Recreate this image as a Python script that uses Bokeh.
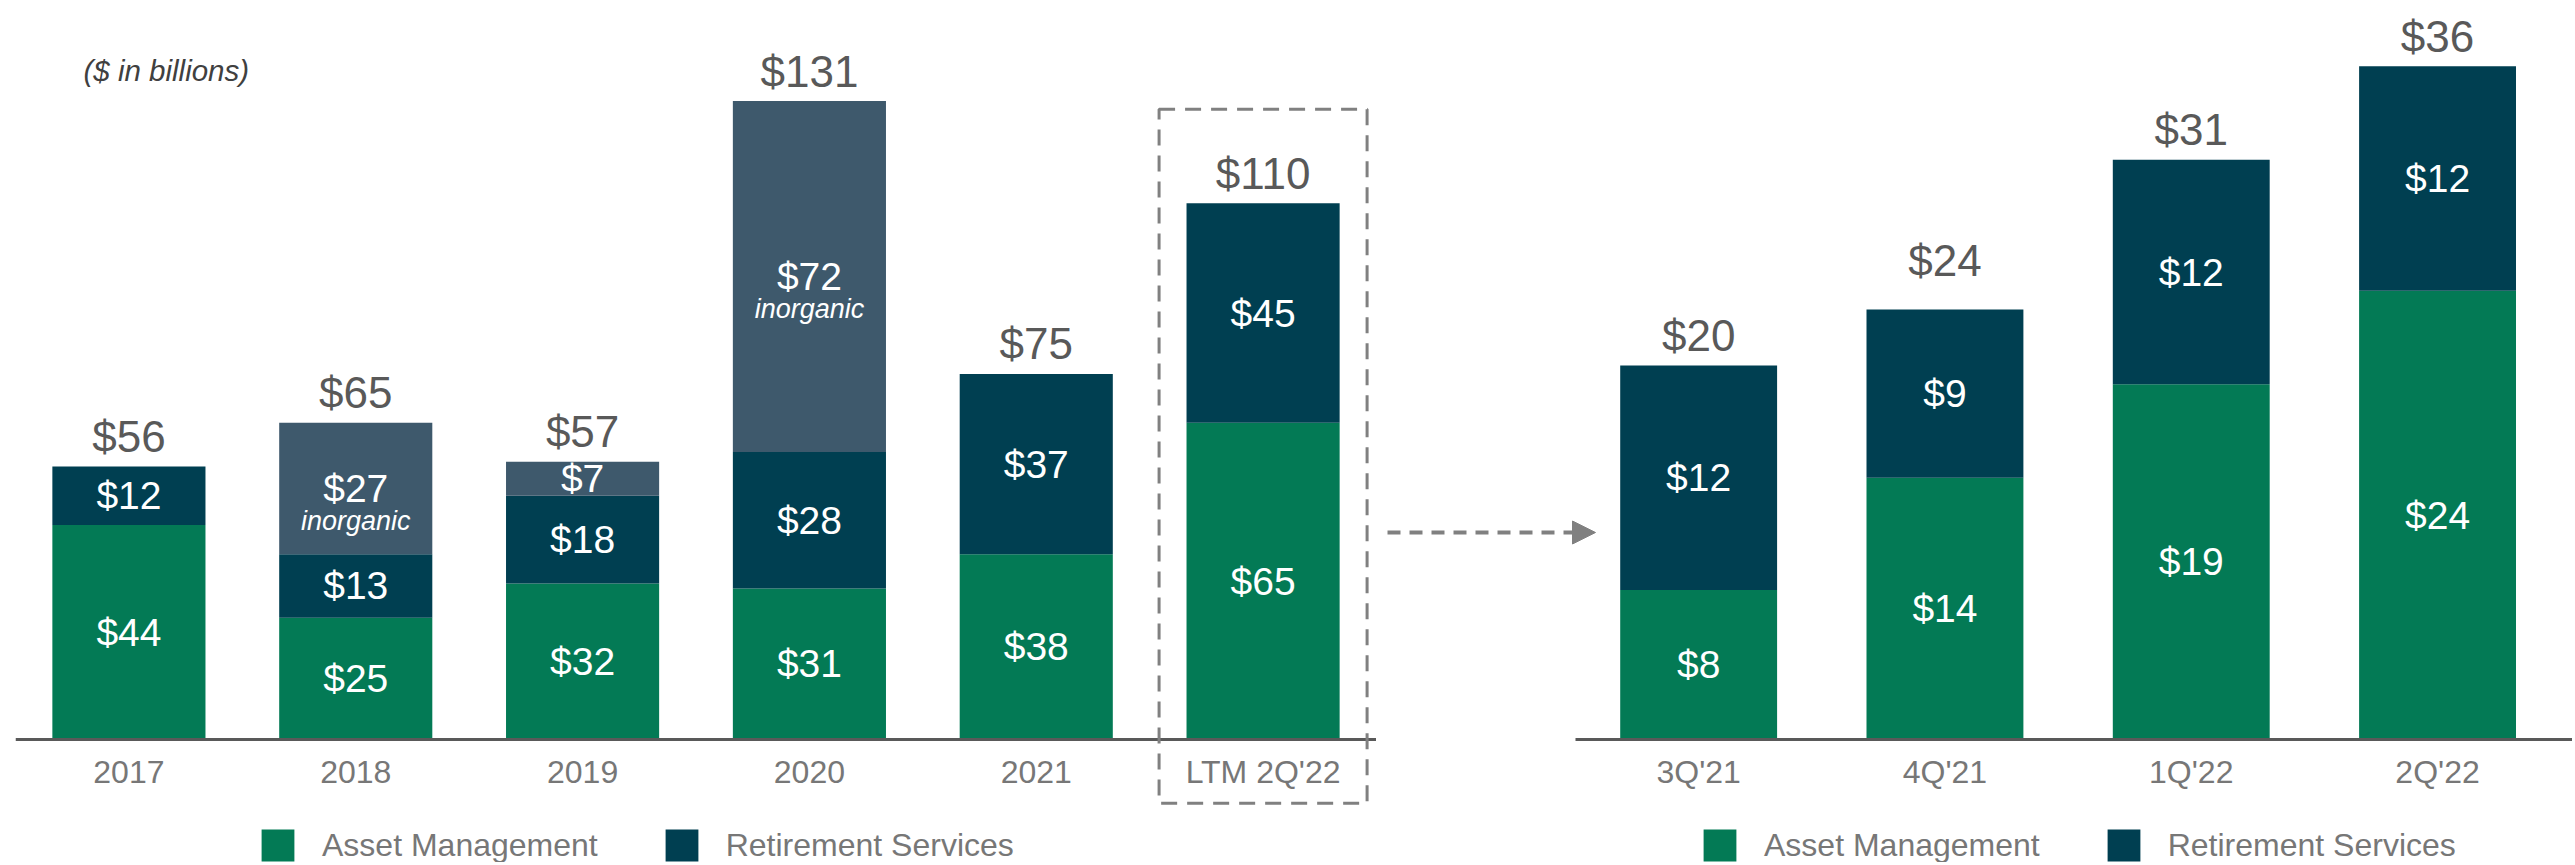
import numpy as np
from bokeh.plotting import figure
from bokeh.models import (ColumnDataSource, Range1d, LinearAxis, FixedTicker, Legend,
                          LegendItem, BoxAnnotation, Arrow, NormalHead)
from bokeh.layouts import row
from bokeh.embed import file_html
from bokeh.resources import INLINE
from bokeh.core.properties import value

# ---------------- data ----------------
years = ["2017", "2018", "2019", "2020", "2021", "LTM 2Q'22"]
am_years = [44, 25, 32, 31, 38, 65]
rs_years = [12, 13, 18, 28, 37, 45]
inorg_years = [0, 27, 7, 72, 0, 0]
inorg_note = ["", "inorganic", "", "inorganic", "", ""]
totals_years = [56, 65, 57, 131, 75, 110]

quarters = ["3Q'21", "4Q'21", "1Q'22", "2Q'22"]
am_q = [8, 14, 19, 24]
rs_q = [12, 9, 12, 12]
totals_q = [20, 24, 31, 36]

series_names = ["Asset Management", "Retirement Services"]

# ---------------- style ----------------
FONT = "Liberation Sans"
GREEN = "#037A55"
NAVY = "#003F51"
SLATE = "#3E596C"
DARK = "#595959"
GRAY_TXT = "#777777"
DASH_GRAY = "#808080"

H = 862
TOP = 8               # border above the frame
BASE = 731            # px from top of frame to the zero line
BELOW = H - TOP - BASE

# left chart geometry
L_BORDER = 15
W1 = 1376
PX_L = 4.874          # px per $bn
# right chart geometry
W2 = 1196
CAT_R = 246.3         # px per quarter category
R_GAP = 199           # px from frame left to first quarter band
PX_R = 18.7


def seg_labels(x, stacks):
    xs, ys, ts = [], [], []
    for i, xi in enumerate(x):
        bottom = 0
        for s in stacks:
            v = s[i]
            if v > 0:
                xs.append(xi)
                ys.append(bottom + v / 2)
                ts.append(f"${v}")
            bottom += v
    return xs, ys, ts


def make_fig(width, xr, yr, border_left):
    p = figure(width=width, height=H, x_range=xr, y_range=yr,
               x_axis_type=None, y_axis_type=None, toolbar_location=None,
               output_backend="svg", min_border_left=border_left, min_border_right=0,
               min_border_top=TOP, min_border_bottom=0, outline_line_color=None)
    return p


def style_axis(ax, labels):
    ax.ticker = FixedTicker(ticks=list(range(len(labels))))
    ax.major_label_overrides = {i: l for i, l in enumerate(labels)}
    ax.major_tick_in = 0
    ax.major_tick_out = 0
    ax.minor_tick_in = 0
    ax.minor_tick_out = 0
    ax.major_tick_line_color = None
    ax.minor_tick_line_color = None
    ax.major_label_standoff = 14
    ax.major_label_text_font = FONT
    ax.major_label_text_font_size = "32px"
    ax.major_label_text_color = GRAY_TXT


def make_legend(renderers, x):
    leg = Legend(items=[LegendItem(label=n, renderers=[r]) for n, r in zip(series_names, renderers)],
                 location=(x, -3), orientation="horizontal",
                 label_text_font=FONT, label_text_font_size="32px", label_text_color=GRAY_TXT,
                 glyph_width=41, glyph_height=40, label_standoff=24, spacing=63,
                 padding=0, margin=0, border_line_color=None, background_fill_alpha=0)
    return leg


# ---------------- left chart ----------------
n1 = len(years)
x1 = list(range(n1))
p1 = make_fig(W1, Range1d(-0.5, n1 - 0.5), Range1d(-BELOW / PX_L, BASE / PX_L), L_BORDER)

src1 = ColumnDataSource(dict(x=x1, am=am_years, rs=rs_years, inorg=inorg_years))
r1 = p1.vbar_stack(["am", "rs", "inorg"], x="x", width=0.675, source=src1,
                   fill_color=[GREEN, NAVY, SLATE], line_color=None)

lx, ly, lt = seg_labels(x1, [am_years, rs_years, inorg_years])
p1.text(x=lx, y=ly, text=lt, text_align="center", text_baseline="middle",
        text_color="white", text_font=value(FONT), text_font_size="39px")

nx = [x1[i] for i in range(n1) if inorg_note[i]]
ny = [am_years[i] + rs_years[i] + inorg_years[i] / 2 for i in range(n1) if inorg_note[i]]
nt = [t for t in inorg_note if t]
p1.text(x=nx, y=ny, text=nt, y_offset=33, text_align="center", text_baseline="middle",
        text_color="white", text_font=value(FONT), text_font_size="27px",
        text_font_style="italic")

p1.text(x=x1, y=totals_years, text=[f"${v}" for v in totals_years], y_offset=-30,
        text_align="center", text_baseline="middle", text_color=DARK,
        text_font=value(FONT), text_font_size="44px")

p1.text(x=[-0.5], y=[BASE / PX_L], text=["($ in billions)"], x_offset=68, y_offset=62,
        text_align="left", text_baseline="middle", text_color="#404040",
        text_font=value(FONT), text_font_size="29.5px", text_font_style="italic")

ax1 = LinearAxis(fixed_location=0)
style_axis(ax1, years)
ax1.axis_line_color = DARK
ax1.axis_line_width = 3
p1.add_layout(ax1, "below")

# dashed box around the LTM bar
ltm = years.index("LTM 2Q'22")
p1.add_layout(BoxAnnotation(left=ltm - 0.4585, right=ltm + 0.4585, top=129.3, bottom=-13.1,
                            fill_alpha=0, line_color=DASH_GRAY, line_alpha=1.0, line_width=3,
                            line_dash="16 10"))

p1.add_layout(make_legend([r1[0], r1[1]], 242))

# ---------------- right chart ----------------
n2 = len(quarters)
x2 = list(range(n2))
xs2 = -0.5 - R_GAP / CAT_R
xe2 = xs2 + W2 / CAT_R
p2 = make_fig(W2, Range1d(xs2, xe2), Range1d(-BELOW / PX_R, BASE / PX_R), 0)

src2 = ColumnDataSource(dict(x=x2, am=am_q, rs=rs_q))
r2 = p2.vbar_stack(["am", "rs"], x="x", width=0.637, source=src2,
                   fill_color=[GREEN, NAVY], line_color=None)

lx, ly, lt = seg_labels(x2, [am_q, rs_q])
p2.text(x=lx, y=ly, text=lt, text_align="center", text_baseline="middle",
        text_color="white", text_font=value(FONT), text_font_size="39px")

p2.text(x=x2, y=totals_q, text=[f"${v}" for v in totals_q], y_offset=-30,
        text_align="center", text_baseline="middle", text_color=DARK,
        text_font=value(FONT), text_font_size="44px")

ax2 = LinearAxis(fixed_location=0)
style_axis(ax2, quarters)
ax2.axis_line_color = None
p2.add_layout(ax2, "below")

p2.segment(x0=[-0.5], y0=[0], x1=[xe2], y1=[0], line_color=DARK, line_width=3)

# dashed arrow from the LTM box to the quarterly chart
ay = (BASE - 524) / PX_R
p2.add_layout(Arrow(end=NormalHead(size=23, fill_color=DASH_GRAY, line_color=DASH_GRAY, line_width=1),
                    x_start=xs2 + 11 / CAT_R, y_start=ay, x_end=-0.5 + 20 / CAT_R, y_end=ay,
                    line_color=DASH_GRAY, line_width=4, line_dash="13 9"))

p2.add_layout(make_legend([r2[0], r2[1]], 323))

layout = row(p1, p2)
open("out.html", "w").write(file_html(layout, INLINE))
